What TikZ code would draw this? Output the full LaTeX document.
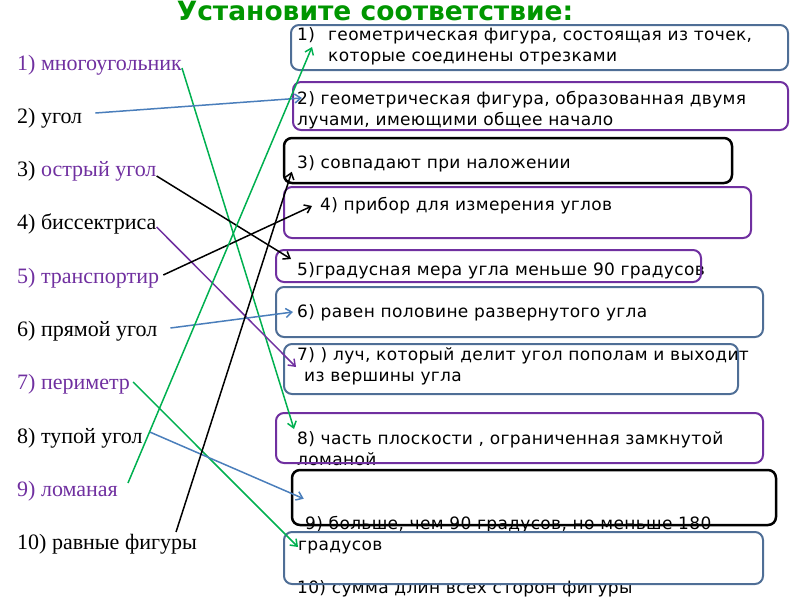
\documentclass[tikz,border=0pt]{standalone}
\usepackage{fontspec}
\setmainfont{Liberation Serif}
\newfontfamily\boxfont[LetterSpace=2]{DejaVu Sans}
\newfontfamily\headfont{DejaVu Sans}
\usetikzlibrary{arrows.meta}
\definecolor{ttlgreen}{RGB}{0,150,0}
\definecolor{lnkgreen}{RGB}{0,176,80}
\definecolor{mpurple}{RGB}{112,48,160}
\definecolor{sblue}{RGB}{79,110,150}
\definecolor{lnkblue}{RGB}{74,126,187}

\begin{document}
\begin{tikzpicture}[
    x=1pt, y=-1pt,
    % Styles
    frame/.style={
        draw, line width=2pt, rounded corners=8pt, inner sep=0pt
    },
    answer/.style={
        anchor=base west, inner sep=0pt, align=left,
        font=\boxfont\fontsize{17}{21}\selectfont
    },
    term/.style={
        anchor=base west, inner sep=0pt,
        font=\fontsize{22}{26}\selectfont
    },
    link/.style={
        line width=1.5pt, -{Straight Barb[length=6pt,width=9pt]}
    }
]
\useasboundingbox (0,0) rectangle (800,600);

% Title
\node[font=\headfont\bfseries\fontsize{26.5}{30}\selectfont, text=ttlgreen, anchor=base]
    (title) at (375,20) {Установите соответствие:};

% Left column: terms
\node[term, text=mpurple] (l1) at (17,70) {1) многоугольник};
\node[term] (l2) at (17,123) {2) угол};
\node[term] (l3) at (17,176) {3) \textcolor{mpurple}{острый угол}};
\node[term] (l4) at (17,229) {4) биссектриса};
\node[term, text=mpurple] (l5) at (17,283) {5) транспортир};
\node[term] (l6) at (17,336) {6) прямой угол};
\node[term, text=mpurple] (l7) at (17,389) {7) периметр};
\node[term] (l8) at (17,443) {8) тупой угол};
\node[term, text=mpurple] (l9) at (17,496) {9) ломаная};
\node[term] (l10) at (17,549) {10) равные фигуры};

% Right column: definitions (two-line texts sit on their last baseline)
\node[answer] (t1) at (297,61) {\makebox[31pt][l]{1)}геометрическая фигура, состоящая из точек,\\
    \hspace*{31pt}которые соединены отрезками};
\node[answer] (t2) at (297,125) {2) геометрическая фигура, образованная двумя\\
    лучами, имеющими общее начало};
\node[answer] (t3) at (297,168) {3) совпадают при наложении};
\node[answer] (t4) at (320,210) {4) прибор для измерения углов};
\node[answer] (t5) at (297,275) {5)градусная мера угла меньше 90 градусов};
\node[answer] (t6) at (297,317) {6) равен половине развернутого угла};
\node[answer] (t7) at (297,381) {7) ) луч, который делит угол пополам и выходит\\
    \hspace*{7pt}из вершины угла};
\node[answer] (t8) at (297,465) {8) часть плоскости , ограниченная замкнутой\\
    ломаной};
\node[answer] (t9) at (298,550) {\hspace*{7pt}9) больше, чем 90 градусов, но меньше 180\\
    градусов};
\node[answer] (t10) at (297,593) {10) сумма длин всех сторон фигуры};

% Frames round the definitions
\node[frame, draw=sblue, minimum width=497pt, minimum height=45pt] (b1) at (539.5,47.5) {};
\node[frame, draw=mpurple, minimum width=495pt, minimum height=48pt] (b2) at (540.5,106) {};
\node[frame, draw=black, line width=2.5pt, minimum width=448pt, minimum height=45pt] (b3) at (508,160.5) {};
\node[frame, draw=mpurple, minimum width=467pt, minimum height=51pt] (b4) at (517.5,212.5) {};
\node[frame, draw=mpurple, minimum width=425pt, minimum height=32pt] (b5) at (488.5,266) {};
\node[frame, draw=sblue, minimum width=487pt, minimum height=50pt] (b6) at (519.5,312) {};
\node[frame, draw=sblue, minimum width=454pt, minimum height=50pt] (b7) at (511,369) {};
\node[frame, draw=mpurple, minimum width=487pt, minimum height=50pt] (b8) at (519.5,438) {};
\node[frame, draw=black, line width=2.5pt, minimum width=484pt, minimum height=55pt] (b9) at (534,497.5) {};
\node[frame, draw=sblue, minimum width=479pt, minimum height=52pt] (b10) at (523.5,558) {};

% Matching arrows
\draw[link, lnkgreen] ([yshift=2pt]l1.base east) -- ([xshift=19pt,yshift=-17pt]b8.north west);
\draw[link, lnkblue] ([xshift=13pt,yshift=10pt]l2.base east) -- ([xshift=10pt,yshift=-17pt]b2.north west);
\draw[link, black] (l3.base east) -- ([xshift=16pt,yshift=-10pt]b5.north west);
\draw[link, mpurple] ([yshift=2pt]l4.base east) -- ([xshift=13pt,yshift=-24pt]b7.north west);
\draw[link, black] ([xshift=4pt,yshift=8pt]l5.base east) -- ([xshift=29pt,yshift=-20pt]b4.north west);
\draw[link, lnkblue] ([xshift=13pt,yshift=8pt]l6.base east) -- ([xshift=18pt,yshift=-26pt]b6.north west);
\draw[link, lnkgreen] ([xshift=3pt,yshift=7pt]l7.base east) -- ([xshift=15pt,yshift=-16pt]b10.north west);
\draw[link, lnkblue] ([xshift=7pt,yshift=11pt]l8.base east) -- ([xshift=13pt,yshift=-30pt]b9.north west);
\draw[link, lnkgreen] ([xshift=10pt,yshift=13pt]l9.base east) -- ([xshift=22pt,yshift=-23pt]b1.north west);
\draw[link, black] ([xshift=-21pt,yshift=17pt]l10.base east) -- ([xshift=9pt,yshift=-35pt]b3.north west);

\end{tikzpicture}
\end{document}
